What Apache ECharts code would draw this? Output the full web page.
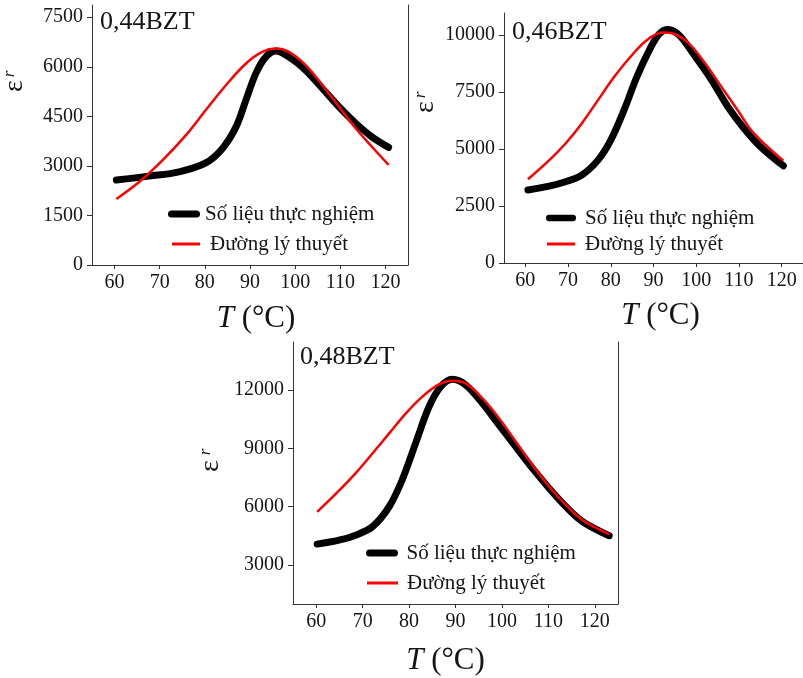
<!DOCTYPE html>
<html><head><meta charset="utf-8">
<script src="https://cdn.jsdelivr.net/npm/echarts@6/dist/echarts.min.js"></script>
<style>html,body{margin:0;padding:0;background:#fff}#c{width:803px;height:678px}</style>
</head><body><div id="c"></div>
<script>
// ---- data ----
const seriesNames = ['Số liệu thực nghiệm', 'Đường lý thuyết'];
const panelLabels = ['0,44BZT', '0,46BZT', '0,48BZT'];
const xTicks = [60, 70, 80, 90, 100, 110, 120];
const yTicks44 = [0, 1500, 3000, 4500, 6000, 7500];
const yTicks46 = [0, 2500, 5000, 7500, 10000];
const yTicks48 = [3000, 6000, 9000, 12000];

const T44exp = [60.4, 67.7, 74.3, 80.2, 83.9, 86.9, 89.1, 91.3, 93.5, 95.7, 98.6, 102.3, 106, 109.7, 113.4, 117, 120.7];
const eps44exp = [2570, 2690, 2820, 3090, 3530, 4180, 4990, 5800, 6300, 6480, 6300, 5900, 5350, 4790, 4290, 3880, 3560];
const T44th = [60.4, 65.5, 70.7, 75.8, 80.2, 84.7, 89.1, 92.7, 95.7, 98.6, 102.3, 106, 109.7, 113.4, 117, 120.7];
const eps44th = [2000, 2520, 3180, 3930, 4690, 5450, 6100, 6450, 6550, 6450, 6050, 5450, 4790, 4140, 3580, 3030];

const T46exp = [60.6, 65.6, 69.4, 73.2, 77, 80, 83.1, 86.1, 89.2, 91.4, 93.4, 96, 99.8, 103.6, 107.4, 111.2, 115.1, 120.4];
const eps46exp = [3200, 3370, 3560, 3850, 4510, 5390, 6700, 8160, 9400, 10060, 10240, 9990, 9040, 8020, 6850, 5900, 5090, 4260];
const T46th = [60.6, 65.6, 69.4, 73.2, 77, 80.8, 84.6, 88.4, 92.2, 94.5, 98.3, 102.1, 105.9, 109.7, 113.5, 120.4];
const eps46th = [3670, 4510, 5240, 6120, 7140, 8160, 9040, 9770, 10100, 10060, 9620, 8750, 7720, 6700, 5680, 4480];

const T48exp = [60.2, 64.9, 68.5, 72.1, 75.7, 78.5, 81.4, 84.3, 86.8, 89.3, 92.2, 95.8, 99.4, 103, 106.6, 110.2, 113.8, 117.4, 123.1];
const eps48exp = [4080, 4280, 4540, 4970, 6000, 7370, 9260, 11140, 12170, 12550, 12260, 11320, 10200, 9080, 7970, 6940, 6000, 5230, 4510];
const T48th = [60.2, 64.9, 68.5, 72.1, 75.7, 79.3, 82.8, 86.4, 89.3, 92.2, 95.8, 99.4, 103, 106.6, 110.2, 113.8, 117.4, 123.1];
const eps48th = [5740, 6830, 7730, 8740, 9770, 10800, 11650, 12290, 12480, 12340, 11570, 10540, 9340, 8140, 7030, 6080, 5310, 4590];

// ---- layout ----
const SERIF = '"Liberation Serif", "Times New Roman", serif';
const TXT = '#151515';
const AX = '#333';
const zip = (a, b) => a.map((v, i) => [v, b[i]]);

const panels = [
  {grid: {left: 92, top: 5, width: 316, height: 260}, ymin: 0, ymax: 7870, yt: yTicks44, exp: zip(T44exp, eps44exp), th: zip(T44th, eps44th),
   lg: {left: 163, w: 32, y1: 209, left2: 167, w2: 28, y2: 239, pad1: 0, pad2: 5}, border: true, nameGap: 38, namePad: [0, 0, 0, 12],
   label: [100, 23], eps: [15, 86], r: [10, 74]},
  {grid: {left: 504, top: 13, width: 306, height: 250}, ymin: 0, ymax: 10960, yt: yTicks46, exp: zip(T46exp, eps46exp), th: zip(T46th, eps46th),
   lg: {left: 541, w: 30, y1: 213, left2: 542, w2: 28, y2: 239, pad1: 4, pad2: 5}, border: false, nameGap: 37, namePad: [0, 0, 0, 14],
   label: [512, 33], eps: [426, 107], r: [421, 95]},
  {grid: {left: 293, top: 342, width: 325, height: 262}, ymin: 1000, ymax: 14470, yt: yTicks48, exp: zip(T48exp, eps48exp), th: zip(T48th, eps48th),
   lg: {left: 361, w: 33, y1: 548, left2: 362, w2: 31, y2: 578, pad1: 3, pad2: 4}, border: true, nameGap: 41, namePad: [0, 20, 0, 0],
   label: [300, 358], eps: [211, 466], r: [206, 452]}
];

const grid = [], xAxis = [], yAxis = [], series = [], legend = [], graphic = [];
panels.forEach((p, i) => {
  grid.push(p.grid);
  xAxis.push({
    type: 'value', gridIndex: i, min: 55, max: 125,
    axisLine: {show: true, onZero: false, lineStyle: {color: AX, width: 1}},
    axisTick: {show: true, length: 4, lineStyle: {color: AX}, customValues: xTicks},
    axisLabel: {customValues: xTicks, fontFamily: SERIF, fontSize: 20, color: TXT, margin: 8, formatter: v => String(v)},
    splitLine: {show: false},
    name: '{t|T} (°C)', nameLocation: 'middle', nameGap: p.nameGap,
    nameTextStyle: {fontFamily: SERIF, fontSize: 31, color: TXT, padding: p.namePad,
      rich: {t: {fontFamily: SERIF, fontStyle: 'italic', fontSize: 31, color: TXT}}}
  });
  yAxis.push({
    type: 'value', gridIndex: i, min: p.ymin, max: p.ymax,
    axisLine: {show: true, lineStyle: {color: AX, width: 1}},
    axisTick: {show: true, length: 5, lineStyle: {color: AX}, customValues: p.yt},
    axisLabel: {customValues: p.yt, fontFamily: SERIF, fontSize: 20, color: TXT, margin: 9, formatter: v => String(v)},
    splitLine: {show: false}
  });
  const yi = yAxis.length - 1;
  if (p.border) {
    yAxis.push({
      type: 'value', gridIndex: i, position: 'right', min: p.ymin, max: p.ymax,
      axisLine: {show: true, lineStyle: {color: AX, width: 1}},
      axisTick: {show: false}, axisLabel: {show: false}, splitLine: {show: false}
    });
  }
  series.push({
    name: seriesNames[0], type: 'line', xAxisIndex: i, yAxisIndex: yi, data: p.exp,
    smooth: 0.35, symbol: 'none', lineStyle: {color: '#000', width: 7, cap: 'round', join: 'round'},
    itemStyle: {color: '#000'}, z: 2
  });
  series.push({
    name: seriesNames[1], type: 'line', xAxisIndex: i, yAxisIndex: yi, data: p.th,
    smooth: 0.35, symbol: 'none', lineStyle: {color: '#ff0000', width: 2.5},
    itemStyle: {color: '#ff0000'}, z: 3
  });
  legend.push({
    orient: 'vertical', left: p.lg.left, top: p.lg.y1 - 11, data: [seriesNames[0]],
    icon: 'path://M3.5,0 H28.5 A3.5,3.5 0 0 1 28.5,7 H3.5 A3.5,3.5 0 0 1 3.5,0 Z',
    itemWidth: p.lg.w, itemHeight: 7, selectedMode: false,
    itemStyle: {color: '#000'},
    textStyle: {fontFamily: SERIF, fontSize: 21, color: TXT, lineHeight: 22, padding: [0, 0, 0, p.lg.pad1]}
  });
  legend.push({
    orient: 'vertical', left: p.lg.left2, top: p.lg.y2 - 11, data: [seriesNames[1]],
    icon: 'rect', itemWidth: p.lg.w2, itemHeight: 3, selectedMode: false,
    itemStyle: {color: '#ff0000'},
    textStyle: {fontFamily: SERIF, fontSize: 21, color: TXT, lineHeight: 22, padding: [0, 0, 0, p.lg.pad2]}
  });
  graphic.push({type: 'text', left: p.label[0], top: p.label[1] - 14,
    style: {text: panelLabels[i], font: '26px ' + SERIF, fill: TXT}});
  graphic.push({type: 'text', x: p.eps[0], y: p.eps[1], rotation: Math.PI / 2,
    style: {text: 'ε', font: '28px ' + SERIF, fill: TXT, align: 'center', verticalAlign: 'middle'}});
  graphic.push({type: 'text', x: p.r[0], y: p.r[1], rotation: Math.PI / 2,
    style: {text: 'r', font: 'italic 17px ' + SERIF, fill: TXT, align: 'center', verticalAlign: 'middle'}});
});

const chart = echarts.init(document.getElementById('c'), null, {renderer: 'canvas'});
chart.setOption({
  backgroundColor: '#fff', animation: false,
  grid, xAxis, yAxis, series, legend, graphic
});
</script></body></html>
